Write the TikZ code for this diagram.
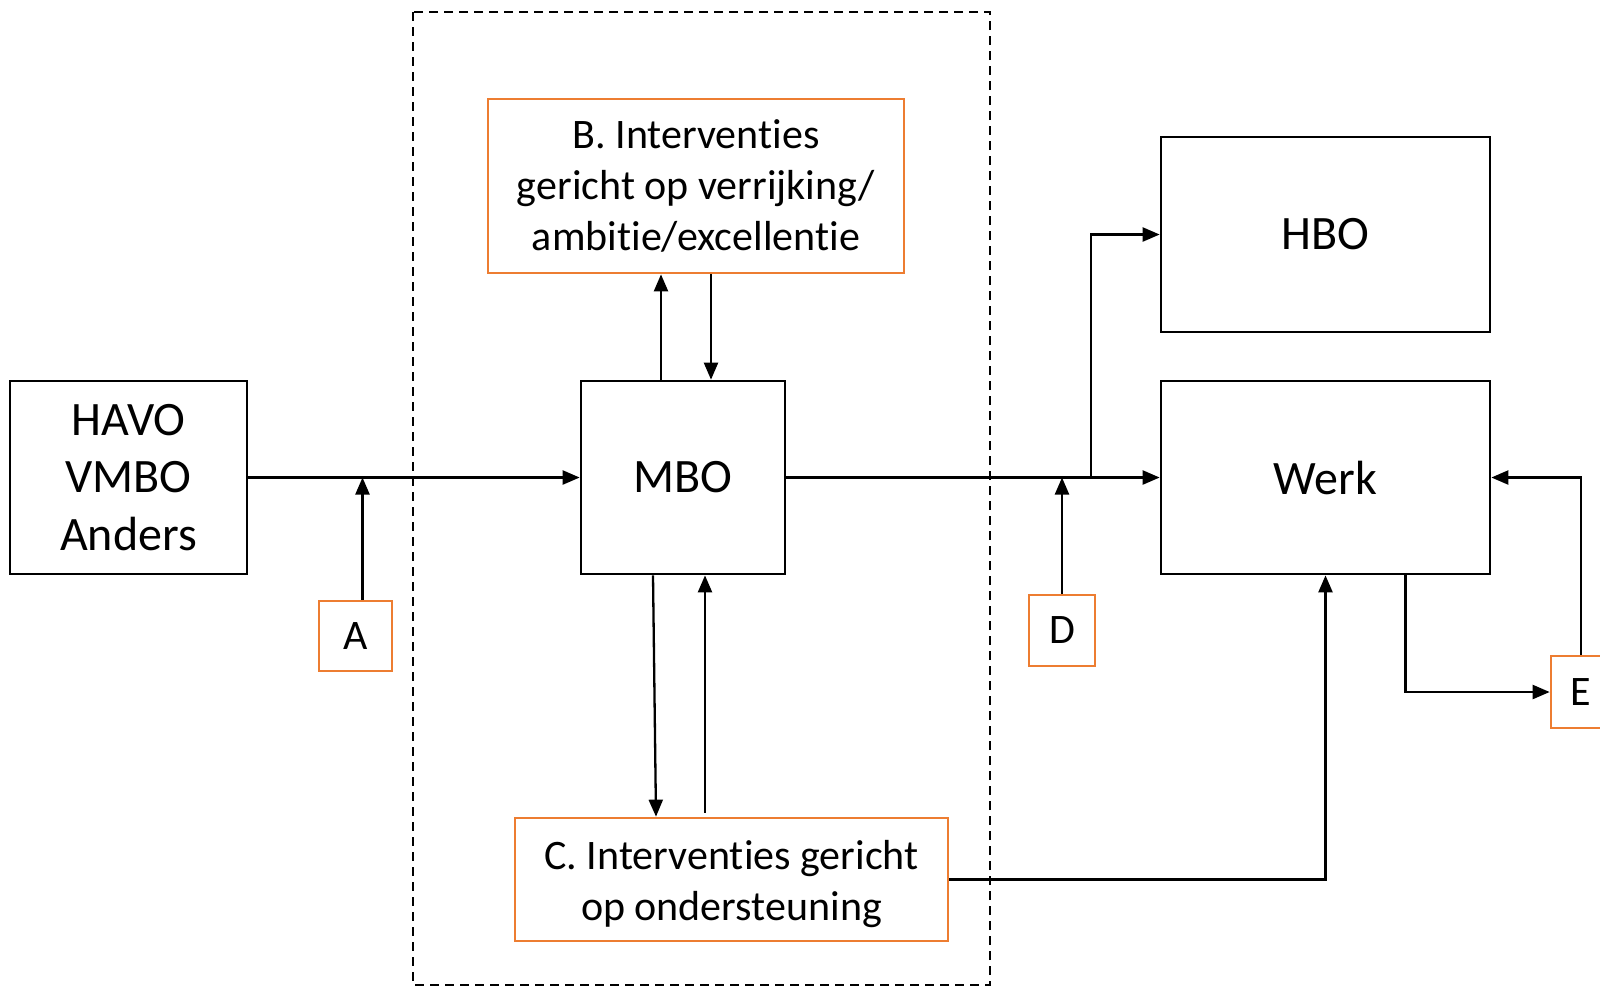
\documentclass[tikz,border=0pt]{standalone}
\usepackage{fontspec}
\setmainfont{Carlito}[Ligatures=NoCommon]
\usetikzlibrary{arrows.meta}
\definecolor{boxorange}{RGB}{237,125,49}
\tikzset{
  blkbox/.style={draw=black, line width=1.35pt, align=center, inner sep=0pt},
  orabox/.style={draw=boxorange, line width=1.35pt, align=center, inner sep=0pt},
  bigtext/.style={font=\fontsize{24}{28.8}\selectfont},
  smalltext/.style={font=\fontsize{21}{25.5}\selectfont},
  arr/.style={-{Triangle[length=8.5pt,width=7pt]}, line width=1.15pt}
}
\begin{document}
\begin{tikzpicture}[x=0.5pt,y=-0.5pt]
    \useasboundingbox (0,0) rectangle (1600,987);
    % Draw the dashed frame round the MBO part.
    \draw[line width=1.3pt, dash pattern=on 4.5pt off 3pt] (413,12) rectangle (990,985);
    % Draw the black boxes.
    \node[blkbox, bigtext, minimum width=118.5pt, minimum height=96.5pt] (havo) at (128.5,477.5) {HAVO\\VMBO\\Anders};
    \node[blkbox, bigtext, minimum width=102pt, minimum height=96.5pt] (mbo) at (683,477.5) {MBO};
    \node[blkbox, bigtext, minimum width=164.5pt, minimum height=97.5pt] (hbo) at (1325.5,234.5) {HBO};
    \node[blkbox, bigtext, minimum width=164.5pt, minimum height=96.5pt] (werk) at (1325.5,477.5) {Werk};
    % Draw the orange boxes.
    \node[orabox, smalltext, minimum width=208pt, minimum height=87pt] (intb) at (696,186) {B. Interventies\\gericht op verrijking/\\ambitie/excellentie};
    \node[orabox, smalltext, minimum width=216.5pt, minimum height=61.5pt] (intc) at (731.5,879.5) {\rule{0pt}{19pt}C. Interventies gericht\\op ondersteuning};
    \node[orabox, smalltext, minimum width=36.5pt, minimum height=35pt] (a) at (355.5,636) {A};
    \node[orabox, smalltext, minimum width=33pt, minimum height=35.5pt] (d) at (1062,630.5) {D};
    \node[orabox, smalltext, minimum width=30pt, minimum height=36pt] (e) at (1581,692) {E};

    % Draw the main flow.
    \draw[arr] (havo.east) -- (mbo.west);
    \draw[arr] (mbo.east) -- (werk.west);
    \coordinate (split) at (1091,477.5);
    \draw[arr] (split) |- (hbo.west);
    % Draw the interventions A and D.
    \draw[arr] ([xshift=3.5pt]a.north) -- ([xshift=3.5pt]a.north |- havo.east);
    \draw[arr] (d.north) -- (d.north |- mbo.east);
    % Draw the arrows between MBO and B.
    \draw[arr] ([xshift=-11pt]mbo.north) -- ([xshift=-11pt]mbo.north |- intb.south);
    \draw[arr] ([xshift=14pt]mbo.north |- intb.south) -- ([xshift=14pt]mbo.north);
    % Draw the arrows between MBO and C.
    \draw[arr] ([xshift=-15pt]mbo.south) -- ([xshift=-13.5pt]mbo.south |- intc.north);
    \draw[arr] ([xshift=11pt,yshift=2pt]mbo.south |- intc.north) -- ([xshift=11pt]mbo.south);
    \draw[arr] (intc.east) -| (werk.south);
    % Draw the loop through E.
    \draw[arr] ([xshift=40pt]werk.south) |- (e.west);
    \draw[arr] (e.north) |- (werk.east);
\end{tikzpicture}
\end{document}
